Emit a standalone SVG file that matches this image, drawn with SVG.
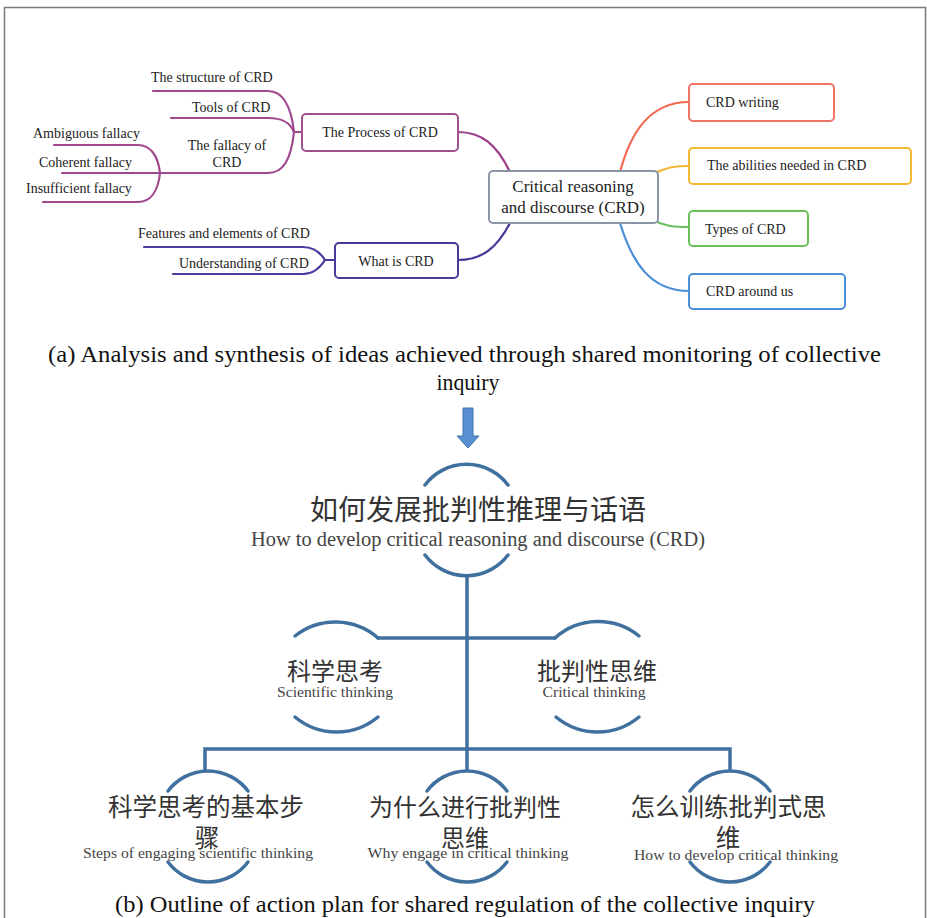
<svg xmlns="http://www.w3.org/2000/svg" width="927" height="918" viewBox="0 0 927 918">
<style>
  .mm { font-family: "Liberation Serif", "Times New Roman", serif; font-size: 14px; fill: #222; }
  .cap { font-family: "Liberation Serif", "Times New Roman", serif; font-size: 24px; fill: #111; }
  .zh { font-family: "Noto Sans CJK SC", "Noto Sans", sans-serif; fill: #333; }
  .en { font-family: "Liberation Serif", "Times New Roman", serif; fill: #444; }
  .box { fill: #fff; stroke-width: 2; }
  .br { fill: none; stroke-width: 2.2; stroke-linecap: round; }
  .tree { fill: none; stroke: #3f709e; stroke-width: 3.5; stroke-linecap: round; }
</style>
<rect x="4.5" y="7.5" width="921" height="930" fill="#fff" stroke="#7a7a7a" stroke-width="1.5"/>

<!-- connectors of mind map -->
<g id="mindmap-connectors">
  <path class="br" stroke="#f26a55" stroke-width="3.5" d="M620,172 C630,135 648,102 689,102"/>
  <path class="br" stroke="#f5b731" stroke-width="3" d="M657,172 C668,168 672,166 689,166"/>
  <path class="br" stroke="#6abf5e" stroke-width="3" d="M657,222 C668,226 672,227 689,227"/>
  <path class="br" stroke="#4a8ed8" stroke-width="3.5" d="M620,223 C632,262 650,291 689,291"/>
  <path class="br" stroke="#9c3f8a" stroke-width="3.5" d="M510,172 C497,145 482,132 458,132"/>
  <path class="br" stroke="#4a3598" stroke-width="3.5" d="M510,223 C497,248 482,260 458,260"/>
  <g stroke="#a0488e">
    <path class="br" d="M302,132 L294,132 C291,105 283,91 268,91 L153,91"/>
    <path class="br" d="M294,132 C290,122 282,118 268,118 L171,118"/>
    <path class="br" d="M294,132 C291,160 283,173 268,173 L160,173"/>
    <path class="br" d="M160,173 C158,155 150,145 138,145 L54,145"/>
    <path class="br" d="M160,173 L62,173"/>
    <path class="br" d="M160,173 C158,192 150,202 138,202 L43,202"/>
  </g>
  <g stroke="#4b3aa0">
    <path class="br" d="M335,260 L325,260 C320,252 313,247 303,247 L144,247"/>
    <path class="br" d="M325,260 C320,268 313,274 303,274 L173,274"/>
  </g>
</g>

<g id="central">
  <rect class="box" x="489" y="171" width="169" height="52" rx="4" stroke="#8a96a8"/>
  <text class="mm" style="font-size:17px" x="573" y="192" text-anchor="middle">Critical reasoning</text>
  <text class="mm" style="font-size:17px" x="573" y="213" text-anchor="middle">and discourse (CRD)</text>
</g>
<g id="crd-writing">
  <rect class="box" x="689" y="84" width="145" height="37" rx="4" stroke="#f07566"/>
  <text class="mm" x="706" y="107">CRD writing</text>
</g>
<g id="abilities">
  <rect class="box" x="689" y="148" width="222" height="36" rx="4" stroke="#f5b82e"/>
  <text class="mm" x="707" y="170">The abilities needed in CRD</text>
</g>
<g id="types">
  <rect class="box" x="689" y="211" width="119" height="35" rx="4" stroke="#6cc05c"/>
  <text class="mm" x="705" y="234">Types of CRD</text>
</g>
<g id="around">
  <rect class="box" x="689" y="274" width="156" height="35" rx="4" stroke="#4a8fd8"/>
  <text class="mm" x="706" y="296">CRD around us</text>
</g>
<g id="process">
  <rect class="box" x="302" y="114" width="156" height="37" rx="4" stroke="#a0508f"/>
  <text class="mm" x="380" y="137" text-anchor="middle">The Process of CRD</text>
</g>
<g id="what-is">
  <rect class="box" x="335" y="243" width="123" height="35" rx="4" stroke="#4a3a9a"/>
  <text class="mm" x="396" y="266" text-anchor="middle">What is CRD</text>
</g>
<g id="structure"><text class="mm" x="151" y="82">The structure of CRD</text></g>
<g id="tools"><text class="mm" x="192" y="112">Tools of CRD</text></g>
<g id="fallacy">
  <text class="mm" x="227" y="150" text-anchor="middle">The fallacy of</text>
  <text class="mm" x="227" y="167" text-anchor="middle">CRD</text>
</g>
<g id="ambiguous"><text class="mm" x="33" y="138">Ambiguous fallacy</text></g>
<g id="coherent"><text class="mm" x="39" y="167">Coherent fallacy</text></g>
<g id="insufficient"><text class="mm" x="26" y="193">Insufficient fallacy</text></g>
<g id="features"><text class="mm" x="138" y="238">Features and elements of CRD</text></g>
<g id="understanding"><text class="mm" x="179" y="268">Understanding of CRD</text></g>

<g id="caption-a">
  <text class="cap" x="464.5" y="362" text-anchor="middle" textLength="833" lengthAdjust="spacingAndGlyphs">(a) Analysis and synthesis of ideas achieved through shared monitoring of collective</text>
  <text class="cap" x="468" y="390" text-anchor="middle" textLength="63" lengthAdjust="spacingAndGlyphs">inquiry</text>
</g>

<g id="down-arrow">
  <path d="M463,408 L473,408 L473,436 L479,436 L468,448 L457,436 L463,436 Z" fill="#5a8fd2" stroke="#3f72b0" stroke-width="1"/>
</g>

<!-- tree connectors -->
<g id="tree-connectors">
  <path class="tree" d="M467,576 L467,770"/>
  <path class="tree" d="M378,638 L555,638"/>
  <path class="tree" d="M205,770 L205,749 L730,749 L730,770"/>
</g>

<g id="root">
  <path class="tree" d="M425,485 A52,52 0 0 1 508,485"/>
  <path class="tree" d="M425,555 A52,52 0 0 0 508,555"/>
  <text class="zh" x="478" y="520" font-size="28" text-anchor="middle">如何发展批判性推理与话语</text>
  <text class="en" x="478" y="546" font-size="20" text-anchor="middle" textLength="454" lengthAdjust="spacingAndGlyphs">How to develop critical reasoning and discourse (CRD)</text>
</g>
<g id="scientific">
  <path class="tree" d="M295,636 A65,65 0 0 1 378,638"/>
  <path class="tree" d="M295,717 A65,65 0 0 0 378,717"/>
  <text class="zh" x="335" y="680" font-size="24" text-anchor="middle">科学思考</text>
  <text class="en" x="335" y="697" font-size="14" text-anchor="middle" textLength="116" lengthAdjust="spacingAndGlyphs">Scientific thinking</text>
</g>
<g id="critical">
  <path class="tree" d="M555,638 A65,65 0 0 1 639,636"/>
  <path class="tree" d="M556,717 A65,65 0 0 0 639,717"/>
  <text class="zh" x="597" y="680" font-size="24" text-anchor="middle">批判性思维</text>
  <text class="en" x="594" y="697" font-size="14" text-anchor="middle" textLength="103" lengthAdjust="spacingAndGlyphs">Critical thinking</text>
</g>
<g id="steps">
  <path class="tree" d="M168,791 A50,50 0 0 1 248,791"/>
  <path class="tree" d="M168,862 A50,50 0 0 0 248,862"/>
  <text class="zh" x="206" y="816" font-size="24.5" text-anchor="middle">科学思考的基本步</text>
  <text class="zh" x="207" y="847" font-size="24.5" text-anchor="middle">骤</text>
  <text class="en" x="198" y="858" font-size="14" text-anchor="middle" textLength="230" lengthAdjust="spacingAndGlyphs">Steps of engaging scientific thinking</text>
</g>
<g id="why">
  <path class="tree" d="M427,791 A50,50 0 0 1 507,791"/>
  <path class="tree" d="M427,862 A50,50 0 0 0 507,862"/>
  <text class="zh" x="465" y="816" font-size="24" text-anchor="middle">为什么进行批判性</text>
  <text class="zh" x="465" y="847" font-size="24" text-anchor="middle">思维</text>
  <text class="en" x="468" y="858" font-size="14" text-anchor="middle" textLength="201" lengthAdjust="spacingAndGlyphs">Why engage in critical thinking</text>
</g>
<g id="how">
  <path class="tree" d="M690,791 A50,50 0 0 1 770,791"/>
  <path class="tree" d="M690,862 A50,50 0 0 0 770,862"/>
  <text class="zh" x="728.5" y="816" font-size="24.5" text-anchor="middle">怎么训练批判式思</text>
  <text class="zh" x="728" y="847" font-size="24.5" text-anchor="middle">维</text>
  <text class="en" x="736" y="860" font-size="14" text-anchor="middle" textLength="204" lengthAdjust="spacingAndGlyphs">How to develop critical thinking</text>
</g>

<g id="caption-b">
  <text class="cap" x="465" y="912" text-anchor="middle" textLength="700" lengthAdjust="spacingAndGlyphs">(b) Outline of action plan for shared regulation of the collective inquiry</text>
</g>
</svg>
